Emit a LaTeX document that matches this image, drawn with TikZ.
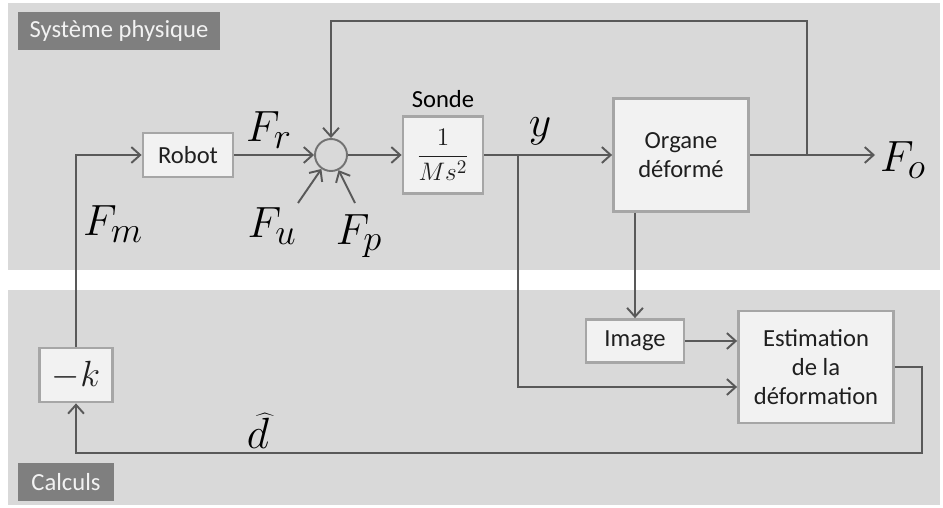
\documentclass[tikz,border=0pt]{standalone}
\usepackage{fontspec}
\setsansfont{Carlito}
\usetikzlibrary{positioning,calc,arrows.meta}
\definecolor{panelgray}{HTML}{D9D9D9}
\definecolor{tagdark}{HTML}{7F7F7F}
\definecolor{boxfill}{HTML}{F2F2F2}
\definecolor{boxline}{HTML}{A6A6A6}
\definecolor{wire}{HTML}{595959}

\begin{document}
\begin{tikzpicture}[x=0.02cm, y=-0.02cm,
  panel/.style={fill=panelgray, draw=none},
  tag/.style={fill=tagdark, text=boxfill, inner sep=0pt,
             font=\sffamily\fontsize{14}{16}\selectfont},
  blk/.style={draw=boxline, line width=1.6pt, fill=boxfill, inner sep=0pt,
             align=center, text=black!88,
             font=\sffamily\fontsize{14}{16.5}\selectfont},
  sumnode/.style={circle, draw=wire!85, line width=1.1pt, inner sep=0pt,
             minimum size=0.64cm},
  lbl/.style={inner sep=0pt, font=\fontsize{24.88}{30}\selectfont},
  edge/.style={wire, line width=1.1pt, -{Straight Barb[length=5pt,width=9pt]}},
]
\useasboundingbox (0,0) rectangle (943,507);
\fill[panel] (8,3) rectangle (940,270);
\fill[panel] (8,290) rectangle (940,505);

\node[tag, minimum width=4.04cm, minimum height=0.76cm] (tphys) at (119,31) {Système physique};
\node[tag, minimum width=1.92cm, minimum height=0.76cm] (tcalc) at (66,482) {Calculs};

\node[blk, minimum width=1.8cm, minimum height=0.88cm]  (robot)  at (188,155) {Robot};
\node[sumnode]                                          (sum)    at (331,155) {};
\node[blk, minimum width=1.6cm, minimum height=1.54cm, font=\fontsize{15}{18}\selectfont] (sonde) at (443,155) {$\displaystyle\frac{1}{Ms^2}$};
\node[font=\sffamily\fontsize{14}{16}\selectfont, above=0.03cm of sonde] (sondelbl) {Sonde};
\node[blk, minimum width=2.7cm, minimum height=2.26cm]  (organe) at (681,155) {Organe\\déformé};
\node[blk, minimum width=1.96cm, minimum height=0.86cm] (image)  at (635,341) {Image};
\node[blk, minimum width=3.1cm, minimum height=2.24cm]  (estim)  at (816,367) {Estimation\\de la\\déformation};
\node[blk, minimum width=1.46cm, minimum height=1.08cm, font=\fontsize{20.74}{24}\selectfont] (gain) at (76,375) {$-k$};

\coordinate (fu)  at (298,203);
\coordinate (fp)  at (355,203);
\coordinate (ybr) at (518,155);
\coordinate (yc)  at (518,387);
\coordinate (fb)  at (807,155);
\coordinate (top) at (807,21);
\coordinate (out) at (875,155);
\coordinate (rc)  at (922,453);

\draw[edge] (gain) |- (robot);
\draw[edge] (robot) -- (sum);
\draw[edge] (fu) -- (sum);
\draw[edge] (fp) -- (sum);
\draw[edge] (sum) -- (sonde);
\draw[edge] (sonde) -- (organe);
\draw[edge] (organe) -- (out);
\draw[edge] (fb) -- (top) -| (sum);
\draw[edge] (image |- organe.south) -- (image);
\draw[edge] (image) -- (image -| estim.west);
\draw[edge] (ybr) -- (yc) -- (yc -| estim.west);
\draw[edge] (estim.east) -| (rc) -| (gain);

\node[lbl] (fr)    at (269,130) {$F_r$};
\node[lbl] (fm)    at (113,224) {$F_m$};
\node[lbl] (fulbl) at (272,226) {$F_u$};
\node[lbl] (fplbl) at (359,236) {$F_p$};
\node[lbl] (ylbl)  at (540,131) {$y$};
\node[lbl] (fo)    at (903,160) {$F_o$};
\node[lbl] (dhat)  at (258,431) {$\widehat{d}$};
\end{tikzpicture}
\end{document}
